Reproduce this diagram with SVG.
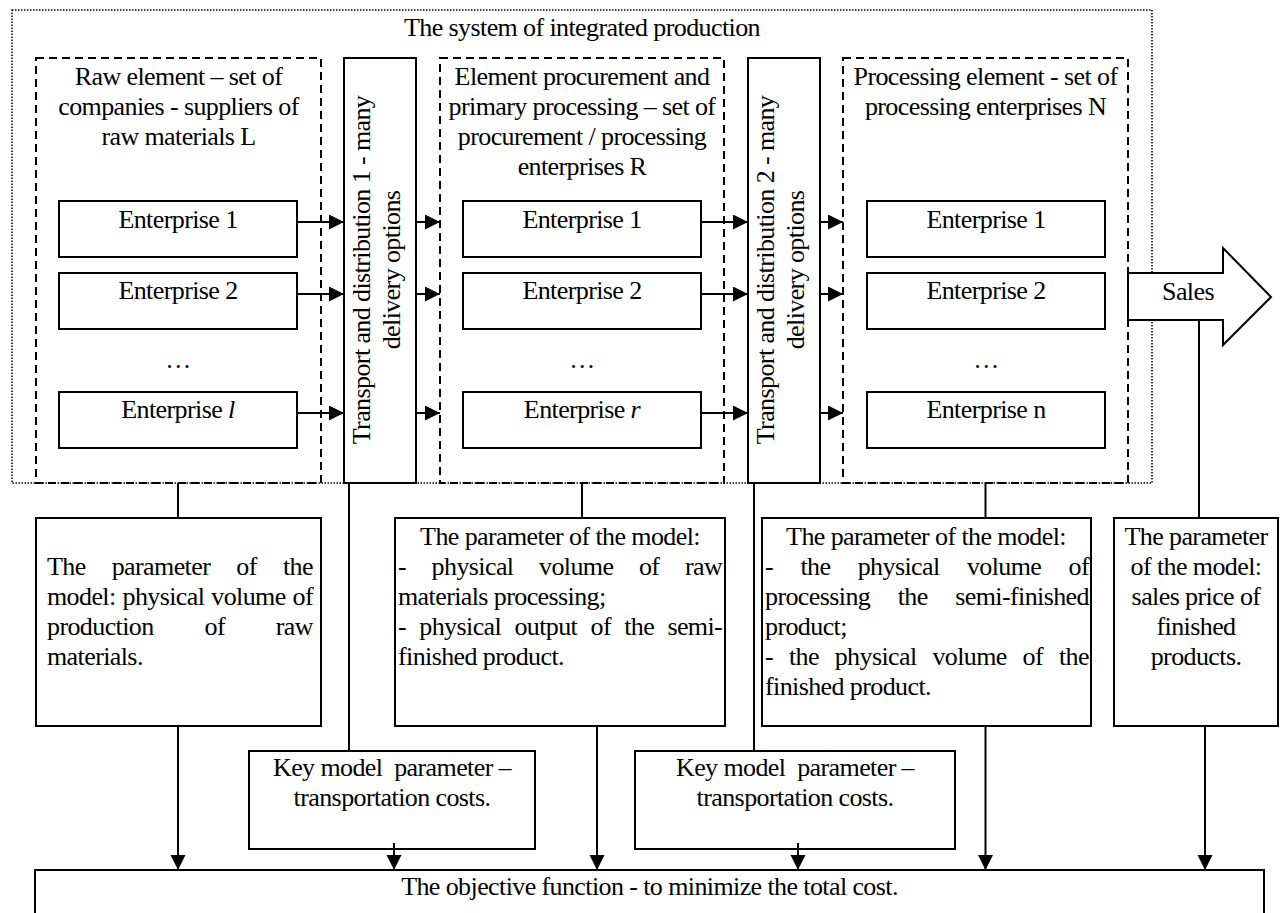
<svg xmlns="http://www.w3.org/2000/svg" width="1283" height="913" viewBox="0 0 1283 913">
<style>
.t{font-family:'Liberation Serif','Times New Roman',serif;font-size:26px;letter-spacing:-0.6px;fill:#000}
.c{text-anchor:middle}
.box{fill:#fff;stroke:#000;stroke-width:2}
.dash{fill:none;stroke:#000;stroke-width:2;stroke-dasharray:8 5}
.dot{fill:none;stroke:#000;stroke-width:1.5;stroke-dasharray:1.5 1.5}
.ln{stroke:#000;stroke-width:2;fill:none}
.ar{stroke:#000;stroke-width:2;fill:none;marker-end:url(#arr)}
</style>
<defs>
<marker id="arr" markerUnits="userSpaceOnUse" markerWidth="16" markerHeight="16" refX="15" refY="7.5" orient="auto">
<path d="M0,0 L15,7.5 L0,15 Z" fill="#000"/>
</marker>
</defs>
<rect width="1283" height="913" fill="#fff"/>

<g id="system">
<rect class="dot" x="12" y="10" width="1140" height="473"/>
<text class="t c" x="582" y="36">The system of integrated production</text>
</g>

<g id="raw-element">
<rect class="dash" x="36" y="58" width="285" height="425"/>
<text class="t c" x="178.5" y="85">Raw element – set of</text>
<text class="t c" x="178.5" y="115">companies - suppliers of</text>
<text class="t c" x="178.5" y="145">raw materials L</text>
</g>
<g id="raw-e1"><rect class="box" x="59" y="201" width="238" height="56"/><text class="t c" x="178" y="228">Enterprise 1</text></g>
<g id="raw-e2"><rect class="box" x="59" y="273" width="238" height="56"/><text class="t c" x="178" y="299">Enterprise 2</text></g>
<text class="t c" x="178" y="368">…</text>
<g id="raw-el"><rect class="box" x="59" y="392" width="238" height="56"/><text class="t c" x="178" y="418">Enterprise <tspan font-style="italic">l</tspan></text></g>

<g id="transport1">
<rect class="box" x="344" y="58" width="72" height="425"/>
<text class="t c" transform="translate(370,270) rotate(-90)">Transport and distribution 1 - many</text>
<text class="t c" transform="translate(400,270) rotate(-90)">delivery options</text>
</g>

<g id="procurement-element">
<rect class="dash" x="440" y="58" width="284" height="425"/>
<text class="t c" x="582" y="85">Element procurement and</text>
<text class="t c" x="582" y="115">primary processing – set of</text>
<text class="t c" x="582" y="145">procurement / processing</text>
<text class="t c" x="582" y="175">enterprises R</text>
</g>
<g id="proc-e1"><rect class="box" x="463" y="201" width="238" height="56"/><text class="t c" x="582" y="228">Enterprise 1</text></g>
<g id="proc-e2"><rect class="box" x="463" y="273" width="238" height="56"/><text class="t c" x="582" y="299">Enterprise 2</text></g>
<text class="t c" x="582" y="368">…</text>
<g id="proc-er"><rect class="box" x="463" y="392" width="238" height="56"/><text class="t c" x="582" y="418">Enterprise <tspan font-style="italic">r</tspan></text></g>

<g id="transport2">
<rect class="box" x="748" y="58" width="72" height="425"/>
<text class="t c" transform="translate(774,270) rotate(-90)">Transport and distribution 2 - many</text>
<text class="t c" transform="translate(804,270) rotate(-90)">delivery options</text>
</g>

<g id="processing-element">
<rect class="dash" x="843" y="58" width="285" height="425"/>
<text class="t c" x="985.5" y="85">Processing element - set of</text>
<text class="t c" x="985.5" y="115">processing enterprises N</text>
</g>
<g id="pe-e1"><rect class="box" x="867" y="201" width="238" height="56"/><text class="t c" x="986" y="228">Enterprise 1</text></g>
<g id="pe-e2"><rect class="box" x="867" y="273" width="238" height="56"/><text class="t c" x="986" y="299">Enterprise 2</text></g>
<text class="t c" x="986" y="368">…</text>
<g id="pe-en"><rect class="box" x="867" y="392" width="238" height="56"/><text class="t c" x="986" y="418">Enterprise n</text></g>

<g id="sales">
<polygon class="box" points="1128,273 1223,273 1223,248 1271,297 1223,345 1223,320 1128,320"/>
<text class="t c" x="1188" y="300">Sales</text>
</g>

<g id="param-raw">
<rect class="box" x="36" y="518" width="285" height="208"/>
<text class="t" y="575"><tspan x="47">The</tspan><tspan x="111.7">parameter</tspan><tspan x="236.3">of</tspan><tspan x="283">the</tspan></text>
<text class="t" y="605"><tspan x="47">model:</tspan><tspan x="122.5">physical</tspan><tspan x="211.3">volume</tspan><tspan x="292.6">of</tspan></text>
<text class="t" y="635"><tspan x="47">production</tspan><tspan x="204.5">of</tspan><tspan x="275.8">raw</tspan></text>
<text class="t" x="47" y="665">materials.</text>
</g>

<g id="param-proc">
<rect class="box" x="395" y="518" width="330" height="208"/>
<text class="t c" x="560" y="545">The parameter of the model:</text>
<text class="t" y="575"><tspan x="398">-</tspan><tspan x="431.6">physical</tspan><tspan x="539">volume</tspan><tspan x="638.9">of</tspan><tspan x="684.9">raw</tspan></text>
<text class="t" x="398" y="605">materials processing;</text>
<text class="t" y="635"><tspan x="398">-</tspan><tspan x="419.3">physical</tspan><tspan x="514.4">output</tspan><tspan x="590.5">of</tspan><tspan x="624.2">the</tspan><tspan x="667.4">semi-</tspan></text>
<text class="t" x="398" y="665">finished product.</text>
</g>

<g id="param-pe">
<rect class="box" x="762" y="518" width="329" height="208"/>
<text class="t c" x="926" y="545">The parameter of the model:</text>
<text class="t" y="575"><tspan x="765">-</tspan><tspan x="800.4">the</tspan><tspan x="857.7">physical</tspan><tspan x="966.9">volume</tspan><tspan x="1068.6">of</tspan></text>
<text class="t" y="605"><tspan x="765">processing</tspan><tspan x="897.7">the</tspan><tspan x="955.2">semi-finished</tspan></text>
<text class="t" x="765" y="635">product;</text>
<text class="t" y="665"><tspan x="765">-</tspan><tspan x="788.9">the</tspan><tspan x="834.7">physical</tspan><tspan x="932.4">volume</tspan><tspan x="1022.6">of</tspan><tspan x="1058.9">the</tspan></text>
<text class="t" x="765" y="695">finished product.</text>
</g>

<g id="param-sales">
<rect class="box" x="1114" y="518" width="164" height="208"/>
<text class="t c" x="1196" y="545">The parameter</text>
<text class="t c" x="1196" y="575">of the model:</text>
<text class="t c" x="1196" y="605">sales price of</text>
<text class="t c" x="1196" y="635">finished</text>
<text class="t c" x="1196" y="665">products.</text>
</g>

<g id="key1">
<rect class="box" x="249" y="751" width="286" height="98"/>
<text class="t c" x="392" y="776" style="white-space:pre">Key model  parameter –</text>
<text class="t c" x="392" y="806">transportation costs.</text>
</g>
<g id="key2">
<rect class="box" x="635" y="751" width="320" height="98"/>
<text class="t c" x="795" y="776" style="white-space:pre">Key model  parameter –</text>
<text class="t c" x="795" y="806">transportation costs.</text>
</g>

<g id="objective">
<rect class="box" x="35" y="870" width="1229" height="60"/>
<text class="t c" x="649.5" y="895">The objective function - to minimize the total cost.</text>
</g>

<g id="connectors">
<line class="ar" x1="297" y1="222" x2="344" y2="222"/>
<line class="ar" x1="297" y1="294" x2="344" y2="294"/>
<line class="ar" x1="297" y1="413" x2="344" y2="413"/>
<line class="ar" x1="416" y1="222" x2="440" y2="222"/>
<line class="ar" x1="416" y1="294" x2="440" y2="294"/>
<line class="ar" x1="416" y1="413" x2="440" y2="413"/>
<line class="ar" x1="701" y1="222" x2="748" y2="222"/>
<line class="ar" x1="701" y1="294" x2="748" y2="294"/>
<line class="ar" x1="701" y1="413" x2="748" y2="413"/>
<line class="ar" x1="820" y1="222" x2="843" y2="222"/>
<line class="ar" x1="820" y1="294" x2="843" y2="294"/>
<line class="ar" x1="820" y1="413" x2="843" y2="413"/>
<line class="ln" x1="178" y1="483" x2="178" y2="518"/>
<line class="ln" x1="582" y1="483" x2="582" y2="518"/>
<line class="ln" x1="985.5" y1="483" x2="985.5" y2="518"/>
<line class="ln" x1="349" y1="484" x2="349" y2="751"/>
<line class="ln" x1="754" y1="484" x2="754" y2="751"/>
<line class="ln" x1="1199" y1="321" x2="1199" y2="518"/>
<line class="ar" x1="178" y1="726" x2="178" y2="870"/>
<line class="ar" x1="597" y1="726" x2="597" y2="870"/>
<line class="ar" x1="985.5" y1="726" x2="985.5" y2="870"/>
<line class="ar" x1="1205" y1="726" x2="1205" y2="870"/>
<line class="ar" x1="394" y1="843" x2="394" y2="870"/>
<line class="ar" x1="798" y1="843" x2="798" y2="870"/>
</g>
</svg>
